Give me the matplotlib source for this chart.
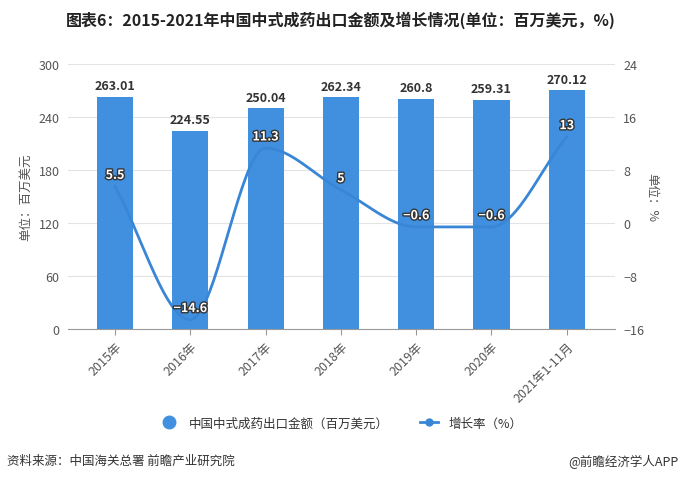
import numpy as np
import matplotlib
matplotlib.use("Agg")
import matplotlib.pyplot as plt
from matplotlib.lines import Line2D
import matplotlib.patheffects as pe

plt.rcParams['font.family'] = ['Noto Sans CJK SC', 'DejaVu Sans']

categories = ['2015年', '2016年', '2017年', '2018年', '2019年', '2020年', '2021年1-11月']
export_values = [263.01, 224.55, 250.04, 262.34, 260.8, 259.31, 270.12]
growth_values = [5.5, -14.6, 11.3, 5, -0.6, -0.6, 13]
bar_labels = ['263.01', '224.55', '250.04', '262.34', '260.8', '259.31', '270.12']
growth_labels = ['5.5', '−14.6', '11.3', '5', '−0.6', '−0.6', '13']
left_ticks = [0, 60, 120, 180, 240, 300]
right_ticks = [-16, -8, 0, 8, 16, 24]

BAR = '#4190df'
LINE = '#3a86d6'
GRAY = '#555555'


def monotone_curve(x, y, n=40):
    x = np.asarray(x, float); y = np.asarray(y, float)
    h = np.diff(x); d = np.diff(y) / h
    m = np.zeros_like(y)
    m[0], m[-1] = d[0], d[-1]
    for i in range(1, len(y) - 1):
        if d[i - 1] * d[i] <= 0:
            m[i] = 0
        else:
            w1 = 2 * h[i] + h[i - 1]; w2 = h[i] + 2 * h[i - 1]
            m[i] = (w1 + w2) / (w1 / d[i - 1] + w2 / d[i])
    xs, ys = [], []
    for i in range(len(x) - 1):
        t = np.linspace(0, 1, n)
        h00 = 2*t**3 - 3*t**2 + 1; h10 = t**3 - 2*t**2 + t
        h01 = -2*t**3 + 3*t**2; h11 = t**3 - t**2
        xs.append(x[i] + t * h[i])
        ys.append(h00*y[i] + h10*h[i]*m[i] + h01*y[i+1] + h11*h[i]*m[i+1])
    return np.concatenate(xs), np.concatenate(ys)


fig = plt.figure(figsize=(6.82, 4.81), dpi=100)
ax = fig.add_axes([0.0997, 0.314, 0.802, 0.551])
x = np.arange(len(categories))
ax.bar(x, export_values, width=0.48, color=BAR, zorder=2)
ax.set_ylim(0, 300)
ax.set_xlim(-0.624, 6.64)
ax.set_yticks(left_ticks)
ax.grid(axis='y', color='#e3e3e3', linewidth=0.8, zorder=0)
for s in ['top', 'right', 'left']:
    ax.spines[s].set_visible(False)
ax.spines['bottom'].set_color('#999999')
ax.tick_params(axis='y', length=0, labelsize=9, colors=GRAY, pad=6)
ax.tick_params(axis='x', length=4, color='#999999', labelsize=9, colors=GRAY)
ax.set_xticks(x)
ax.set_xticklabels(categories, rotation=45, ha='right', rotation_mode='anchor')
ax.set_ylabel('单位：百万美元', fontsize=9, color=GRAY, labelpad=5)
for xi, v, lab in zip(x, export_values, bar_labels):
    ax.text(xi, v + 5, lab, ha='center', va='bottom', fontsize=9,
            fontweight='bold', color='#333333', zorder=5)

ax2 = ax.twinx()
ax2.set_ylim(-16, 24)
ax2.set_yticks(right_ticks)
for s in ['top', 'right', 'left', 'bottom']:
    ax2.spines[s].set_visible(False)
ax2.tick_params(axis='y', length=0, labelsize=9, colors=GRAY, pad=6)
ax2.set_ylabel('单位：%', fontsize=9, color=GRAY, rotation=-90, labelpad=10)
cx, cy = monotone_curve(x, growth_values)
ax2.plot(cx, cy, color=LINE, linewidth=2, zorder=3)
for xi, v, lab in zip(x, growth_values, growth_labels):
    ax2.text(xi, v + 0.7, lab, ha='center', va='bottom', fontsize=9,
             fontweight='bold', color='white', zorder=6,
             path_effects=[pe.withStroke(linewidth=2, foreground='#333333')])

handles = [
    Line2D([], [], marker='o', linestyle='none', markersize=9, color=BAR),
    Line2D([], [], marker='o', linestyle='-', markersize=5, linewidth=2, color=LINE),
]
fig.legend(handles, ['中国中式成药出口金额（百万美元）', '增长率（%）'],
           loc='center', bbox_to_anchor=(0.5, 0.118), ncol=2, frameon=False,
           fontsize=9, handlelength=1.5, columnspacing=2.5, labelcolor='#333333')

fig.text(0.5, 0.957, '图表6：2015-2021年中国中式成药出口金额及增长情况(单位：百万美元，%)',
         ha='center', va='center', fontsize=11.5, fontweight='bold', color='#222222')
fig.text(0.01, 0.04, '资料来源：中国海关总署 前瞻产业研究院', ha='left', va='center',
         fontsize=9, color='#333333')
fig.text(0.995, 0.04, '@前瞻经济学人APP', ha='right', va='center',
         fontsize=9, color='#333333')

fig.savefig('out.png', dpi=100)
